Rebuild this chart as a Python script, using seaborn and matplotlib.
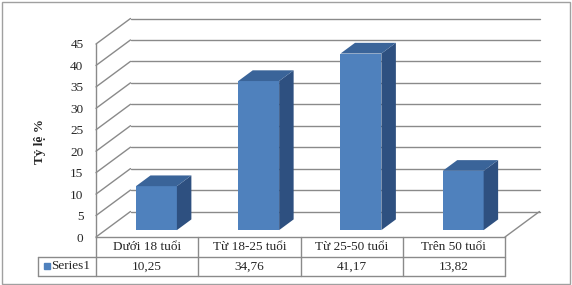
import matplotlib
matplotlib.use("Agg")
import matplotlib.pyplot as plt
import matplotlib.transforms as mtransforms
from matplotlib.patches import Polygon, Rectangle
from matplotlib.lines import Line2D
import numpy as np
import pandas as pd
import seaborn as sns

# ---- data ----
categories = ["Dưới 18 tuổi", "Từ 18-25 tuổi", "Từ 25-50 tuổi", "Trên 50 tuổi"]
values = [10.25, 34.76, 41.17, 13.82]
series_name = "Series1"
y_ticks = [0, 5, 10, 15, 20, 25, 30, 35, 40, 45]
y_label = "Tỷ lệ %"

sns.set_style("white")
plt.rcParams["font.family"] = ["Liberation Serif", "DejaVu Serif"]

W, H = 572, 285
fig = plt.figure(figsize=(W / 100, H / 100), dpi=100)
fig.patch.set_facecolor("white")

def rect(l, t, r, b):
    return [l / W, 1 - b / H, (r - l) / W, (b - t) / H]

# geometry (pixels)
FL, FR, FB, FT = 96, 505, 237, 44       # front plane
DX, DY = 34.5, 25.5                      # full depth vector (right, up)
D_BAR = 0.27                             # depth of bar front faces
BAR_DEPTH = 0.42

def shifted(d):
    return rect(FL + DX * d, FT - DY * d, FR + DX * d, FB - DY * d)

GRID = "#8a8a8a"
FRONT = "#4F81BD"
SIDE = "#2E5080"
TOP = "#3A6499"

# back wall with gridlines
ax_back = fig.add_axes(shifted(1.0))
ax_back.set_xlim(-0.5, len(categories) - 0.5)
ax_back.set_ylim(0, 45)
ax_back.set_yticks(y_ticks)
ax_back.set_xticks([])
ax_back.tick_params(left=False, labelleft=False)
ax_back.grid(axis="y", color=GRID, linewidth=1.0)
for l in ax_back.get_ygridlines():
    l.set_clip_on(False)
for s in ax_back.spines.values():
    s.set_visible(False)
ax_back.patch.set_alpha(0)

# front plane: y axis labels, left edge, floor edge
ax_front = fig.add_axes(shifted(0.0))
ax_front.set_xlim(-0.5, len(categories) - 0.5)
ax_front.set_ylim(0, 45)
ax_front.set_yticks(y_ticks)
ax_front.set_yticklabels([str(t) for t in y_ticks], fontsize=9.5)
ax_front.set_xticks([])
ax_front.tick_params(axis="y", length=0, pad=9)
for k, s in ax_front.spines.items():
    if k in ("left", "bottom"):
        s.set_color(GRID)
        s.set_linewidth(1.0)
    else:
        s.set_visible(False)
ax_front.patch.set_alpha(0)

ident = mtransforms.IdentityTransform()

# side wall diagonals and floor right edge
for v in y_ticks:
    p0 = ax_front.transData.transform((-0.5, v))
    p1 = ax_back.transData.transform((-0.5, v))
    fig.add_artist(Line2D([p0[0], p1[0]], [p0[1], p1[1]], color=GRID,
                          linewidth=1.0, transform=ident))
p0 = ax_front.transData.transform((len(categories) - 0.5, 0))
p1 = ax_back.transData.transform((len(categories) - 0.5, 0))
fig.add_artist(Line2D([p0[0], p1[0]], [p0[1], p1[1]], color=GRID,
                      linewidth=1.0, transform=ident))

# bars
ax_bar = fig.add_axes(shifted(D_BAR))
df = pd.DataFrame({"cat": categories, "val": values})
sns.barplot(data=df, x="cat", y="val", ax=ax_bar, color=FRONT, width=0.4,
            saturation=1, edgecolor="none", linewidth=0)
ax_bar.set_xlim(-0.5, len(categories) - 0.5)
ax_bar.set_ylim(0, 45)
ax_bar.axis("off")

off = np.array([DX * BAR_DEPTH, DY * BAR_DEPTH])
for p in list(ax_bar.patches):
    x, w, h = p.get_x(), p.get_width(), p.get_height()
    bl = ax_bar.transData.transform((x, 0))
    br = ax_bar.transData.transform((x + w, 0))
    tl = ax_bar.transData.transform((x, h))
    tr = ax_bar.transData.transform((x + w, h))
    side = Polygon([br, tr, tr + off, br + off], closed=True, facecolor=SIDE,
                   edgecolor="none", transform=ident, clip_on=False)
    top = Polygon([tl, tr, tr + off, tl + off], closed=True, facecolor=TOP,
                  edgecolor="none", transform=ident, clip_on=False)
    ax_bar.add_patch(side)
    ax_bar.add_patch(top)

# y label
fig.text(40 / W, 1 - 142 / H, y_label, rotation=90, ha="center", va="center",
         fontsize=9.5, fontweight="bold")

# data table
ax_tab = fig.add_axes(rect(FL, FB, FR, 276))
ax_tab.set_xlim(-0.5, len(categories) - 0.5)
ax_tab.set_ylim(0, 2)
ax_tab.axis("off")
col_w = (FR - FL) / len(categories)
x_left = -0.5 - (FL - 38) / col_w
for yv in (0, 1):
    ax_tab.plot([x_left, len(categories) - 0.5], [yv, yv], color=GRID,
                linewidth=1.0, clip_on=False)
for i in range(len(categories) + 1):
    ax_tab.plot([i - 0.5, i - 0.5], [0, 2], color=GRID, linewidth=1.0,
                clip_on=False)
ax_tab.plot([x_left, x_left], [0, 1], color=GRID, linewidth=1.0, clip_on=False)
for i, (c, v) in enumerate(zip(categories, values)):
    ax_tab.text(i, 1.5, c, ha="center", va="center", fontsize=9.5)
    ax_tab.text(i, 0.5, f"{v:.2f}".replace(".", ","), ha="center",
                va="center", fontsize=9.5)
ax_tab.plot([-0.5 - (FL - 46.5) / col_w], [0.5], marker="s", markersize=4.5,
            color=FRONT, linestyle="none", clip_on=False)
ax_tab.text(-0.5 - (FL - 51) / col_w, 0.5, series_name, ha="left",
            va="center", fontsize=9.5)

# outer frame
fig.add_artist(Rectangle((1.5 / W, 1 - 283.5 / H), 568 / W, 282 / H,
                         transform=fig.transFigure, fill=False,
                         edgecolor="#a0a0a0", linewidth=1.0))

fig.savefig("out.png", dpi=100)
